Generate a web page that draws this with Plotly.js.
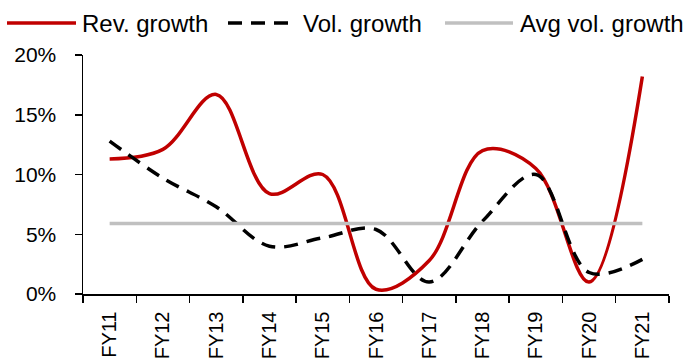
<!DOCTYPE html>
<html>
<head>
<meta charset="utf-8">
<script src="https://cdn.plot.ly/plotly-3.0.1.min.js"></script>
<style>
  html, body { margin: 0; padding: 0; background: #ffffff; }
  #chart { width: 693px; height: 363px; }
</style>
</head>
<body>
<div id="chart"></div>
<script>
// Fiscal years on the category axis
const years = ["FY11", "FY12", "FY13", "FY14", "FY15", "FY16", "FY17", "FY18", "FY19", "FY20", "FY21"];

// Growth rates, in percent
const revGrowth = [11.3, 12.1, 16.7, 8.4, 10.0, 0.4, 2.8, 12.0, 10.5, 1.0, 18.2];
const volGrowth = [12.8, 9.7, 7.3, 4.0, 4.7, 5.4, 1.0, 6.1, 10.0, 1.8, 2.9];
const avgVolGrowth = [5.9, 5.9, 5.9, 5.9, 5.9, 5.9, 5.9, 5.9, 5.9, 5.9, 5.9];

// Series labels for the legend row
const seriesNames = ["Rev. growth", "Vol. growth", "Avg vol. growth"];

const RED = "#c00000";
const GREY = "#c0c0c0";
const FONT = "Liberation Sans, Arial, sans-serif";
const DASH = "14px,9px";

// Plot-area geometry in pixels, used to place the hand-built legend row
const W = 693, H = 363;
const M = { l: 83, r: 24, t: 55, b: 69 };
const pw = W - M.l - M.r, ph = H - M.t - M.b;
const px = x => (x - M.l) / pw;
const py = y => 1 - (y - M.t) / ph;

const traces = [
  {
    x: years, y: revGrowth, name: seriesNames[0], type: "scatter", mode: "lines",
    line: { color: RED, width: 3.5, shape: "spline", smoothing: 1 }
  },
  {
    x: years, y: volGrowth, name: seriesNames[1], type: "scatter", mode: "lines",
    line: { color: "#000000", width: 3.5, shape: "spline", smoothing: 1, dash: DASH }
  },
  {
    x: years, y: avgVolGrowth, name: seriesNames[2], type: "scatter", mode: "lines",
    line: { color: GREY, width: 3.5 }
  }
];

// Legend row: a line sample followed by its label
const legendY = 23;
const legendItems = [
  { x0: 7, x1: 76, tx: 80, color: RED, dash: "solid" },
  { x0: 228, x1: 297, tx: 301, color: "#000000", dash: DASH },
  { x0: 445, x1: 513, tx: 518, color: GREY, dash: "solid" }
];

const shapes = legendItems.map(it => ({
  type: "line", xref: "paper", yref: "paper",
  x0: px(it.x0), x1: px(it.x1), y0: py(legendY), y1: py(legendY),
  line: { color: it.color, width: 3.5, dash: it.dash }
}));

const annotations = legendItems.map((it, i) => ({
  xref: "paper", yref: "paper", x: px(it.tx), y: py(legendY),
  xanchor: "left", yanchor: "middle", showarrow: false,
  text: seriesNames[i], font: { family: FONT, size: 24, color: "#000000" }
}));

const layout = {
  width: W, height: H,
  margin: M,
  paper_bgcolor: "#ffffff", plot_bgcolor: "#ffffff",
  showlegend: false,
  font: { family: FONT, color: "#000000" },
  xaxis: {
    type: "category", range: [-0.5, 10.5],
    showgrid: false, zeroline: false,
    showline: true, linecolor: "#000000", linewidth: 1.5,
    ticks: "outside", tickson: "boundaries", ticklen: 7, tickwidth: 1.5, tickcolor: "#000000",
    tickangle: -90, tickfont: { family: FONT, size: 20, color: "#000000" },
    ticklabelstandoff: 8,
    automargin: false
  },
  yaxis: {
    range: [0, 20], dtick: 5, ticksuffix: "%",
    showgrid: false, zeroline: false,
    showline: true, linecolor: "#000000", linewidth: 1.5,
    ticks: "outside", ticklen: 7, tickwidth: 1.5, tickcolor: "#000000",
    tickfont: { family: FONT, size: 21, color: "#000000" },
    ticklabelstandoff: 14,
    automargin: false
  },
  shapes: shapes,
  annotations: annotations
};

Plotly.newPlot("chart", traces, layout, { displayModeBar: false, staticPlot: true });
</script>
</body>
</html>
